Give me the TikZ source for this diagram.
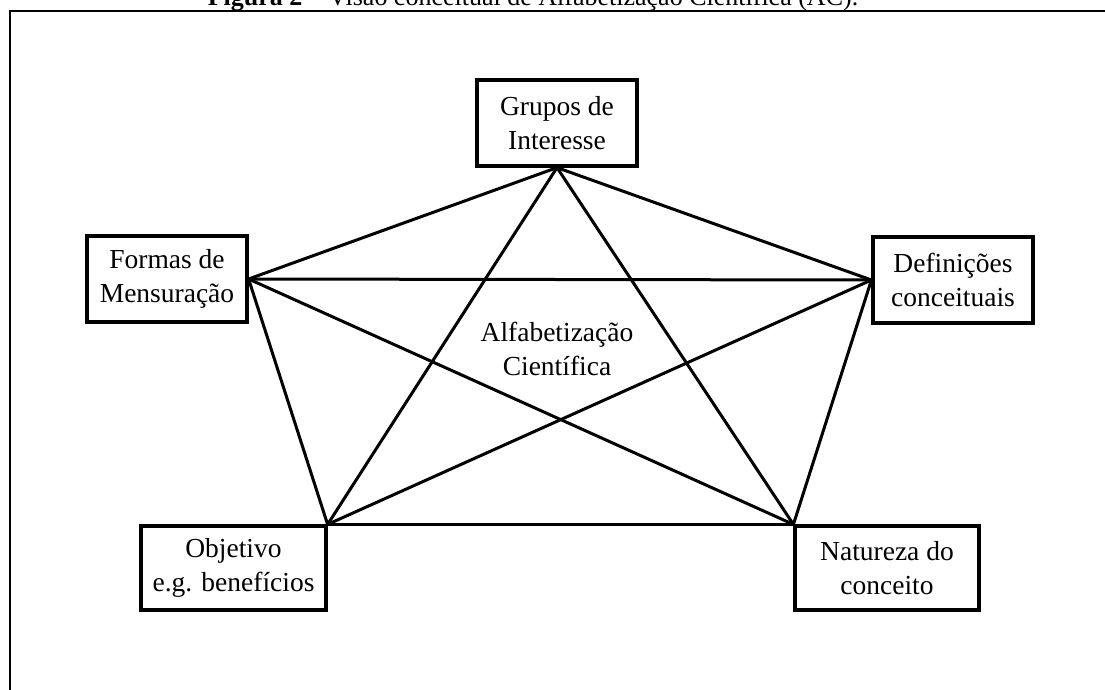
\documentclass[tikz,border=0pt]{standalone}
\usepackage{fontspec}
\setmainfont{Liberation Serif}

\tikzset{
  conceito/.style={draw, line width=3.2pt, align=center, inner sep=0pt,
    font=\fontsize{27.5}{34}\selectfont},
  ligacao/.style={line width=3pt}
}

\begin{document}
\begin{tikzpicture}[x=1pt,y=-1pt]
    \clip (0,0) rectangle (1105,689);
    % moldura e legenda (cortada no topo)
    \draw[line width=2.4pt] (10,700) -- (10,11) -- (1120,11);
    \node[anchor=base, font=\fontsize{26}{30}\selectfont] (legenda) at (533,5)
      {\textbf{Figura 2} – Visão conceitual de Alfabetização Científica (AC).};
    % 5 caixas do pentagono
    \node[conceito, minimum width=160, minimum height=86] (grupos) at (557,123) {Grupos de\\Interesse};
    \node[conceito, minimum width=160, minimum height=86] (formas) at (167,279) {Formas de\\Mensuração};
    \node[conceito, minimum width=160, minimum height=86] (definicoes) at (953,280) {Definições\\conceituais};
    \node[conceito, minimum width=185, minimum height=84] (objetivo) at (233.5,568) {Objetivo\\e.g. benefícios};
    \node[conceito, minimum width=184, minimum height=84] (natureza) at (887,568) {Natureza do\\conceito};
    \node[align=center, font=\fontsize{27.5}{34}\selectfont] (centro) at (557,349) {Alfabetização\\Científica};
    % todas as ligacoes entre as caixas
    \draw[ligacao] (grupos.south) -- (formas.east);
    \draw[ligacao] (grupos.south) -- (definicoes.west);
    \draw[ligacao] (grupos.south) -- (objetivo.north east);
    \draw[ligacao] (grupos.south) -- (natureza.north west);
    \draw[ligacao] (formas.east) -- (definicoes.west);
    \draw[ligacao] (formas.east) -- (objetivo.north east);
    \draw[ligacao] (formas.east) -- (natureza.north west);
    \draw[ligacao] (definicoes.west) -- (objetivo.north east);
    \draw[ligacao] (definicoes.west) -- (natureza.north west);
    \draw[ligacao] (objetivo.north east) -- (natureza.north west);
\end{tikzpicture}
\end{document}
